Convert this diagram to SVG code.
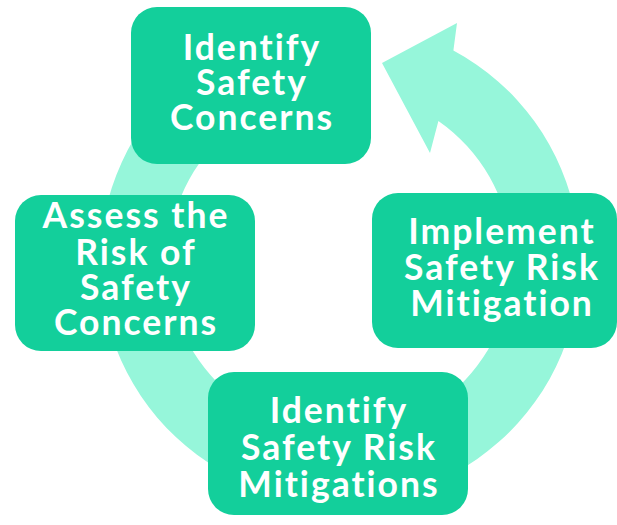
<svg xmlns="http://www.w3.org/2000/svg" width="617" height="525" viewBox="0 0 617 525">
<style>
.box{fill:#13CF9B}
.ring{fill:#96F6DA}
.t{font-family:Lato,"Open Sans","Liberation Sans",sans-serif;font-weight:bold;font-size:35.5px;letter-spacing:2px;font-variant-ligatures:none;fill:#fff;text-anchor:middle}
</style>
<rect width="617" height="525" fill="#fff"/>
<g id="connectors">
<path class="ring" d="M 257.9 36.5 A 240 240 0 1 0 453.4 50.5 L 457 23 L 382 63 L 430 153 L 438.4 120.9 A 172 172 0 1 1 281.2 100.4 Z"/>
</g>
<g id="n1">
<rect class="box" x="131" y="7" width="240" height="157" rx="26"/>
<text class="t" x="252" y="60">Identify</text>
<text class="t" x="252" y="95">Safety</text>
<text class="t" x="252" y="130">Concerns</text>
</g>
<g id="n2">
<rect class="box" x="15" y="195" width="240" height="156" rx="26"/>
<text class="t" x="136" y="228">Assess the</text>
<text class="t" x="136" y="265">Risk of</text>
<text class="t" x="136" y="300">Safety</text>
<text class="t" x="136" y="335">Concerns</text>
</g>
<g id="n3">
<rect class="box" x="372" y="193" width="245" height="155" rx="26"/>
<text class="t" x="502" y="244">Implement</text>
<text class="t" x="502" y="280">Safety Risk</text>
<text class="t" x="502" y="316">Mitigation</text>
</g>
<g id="n4">
<rect class="box" x="208" y="372" width="260" height="143" rx="26"/>
<text class="t" x="339" y="423">Identify</text>
<text class="t" x="339" y="460">Safety Risk</text>
<text class="t" x="339" y="497">Mitigations</text>
</g>
</svg>
